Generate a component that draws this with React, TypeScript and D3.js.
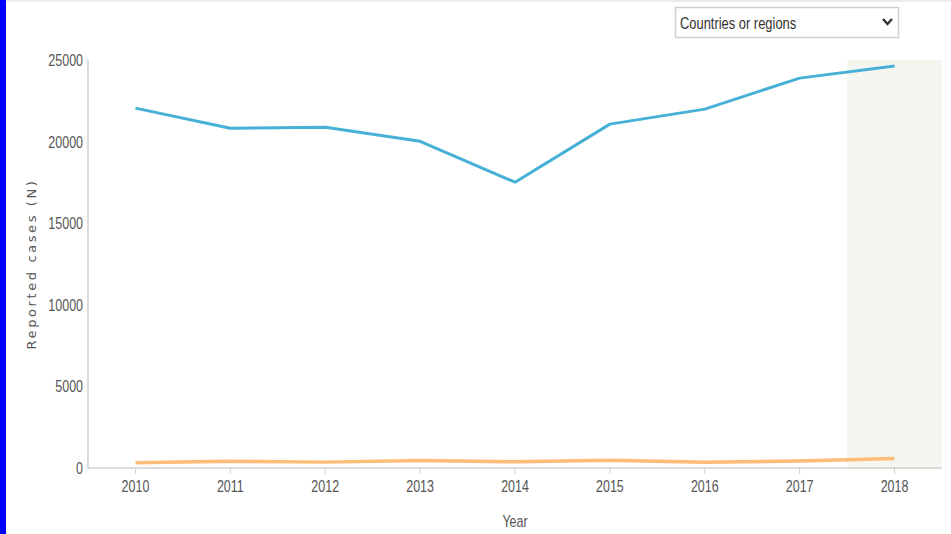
import React, { useEffect, useRef } from "react";
import * as d3 from "d3";

const years = ["2010", "2011", "2012", "2013", "2014", "2015", "2016", "2017", "2018"];
const seriesA = [22050, 20820, 20880, 20020, 17510, 21070, 21990, 23890, 24630];
const seriesB = [320, 410, 360, 460, 380, 470, 350, 430, 580];
const yTicks = [0, 5000, 10000, 15000, 20000, 25000];
const highlightYear = "2018";

const W = 951;
const H = 534;
const M = { left: 88, right: 942, top: 60, bottom: 468 };
const FONT = "'Liberation Sans', Arial, sans-serif";
const SX = 0.78;

export default function App() {
  const ref = useRef<SVGSVGElement>(null);
  useEffect(() => {
    document.body.style.margin = "0";
    const svg = d3.select(ref.current);
    svg.selectAll("*").remove();

    const x = d3.scaleBand().domain(years).range([M.left, M.right]).padding(0);
    const y = d3.scaleLinear().domain([0, 25000]).range([M.bottom, M.top]);

    const txt = (g: any, px: number, py: number, s: string, anchor: string, size = 16, fill = "#555", sx = SX) =>
      g.append("text")
        .attr("transform", `translate(${px},${py}) scale(${sx},1)`)
        .attr("text-anchor", anchor)
        .attr("font-family", FONT).attr("font-size", size).attr("fill", fill).text(s);

    svg.append("rect").attr("x", 0).attr("y", 0).attr("width", W).attr("height", H).attr("fill", "#fff");
    svg.append("rect").attr("x", 0).attr("y", 0).attr("width", W).attr("height", 2).attr("fill", "#ececec");
    svg.append("rect").attr("x", 0).attr("y", 0).attr("width", 6).attr("height", H).attr("fill", "#0000ff");

    // highlight band
    svg.append("rect")
      .attr("x", x(highlightYear)!)
      .attr("y", y(25000))
      .attr("width", x.bandwidth())
      .attr("height", y(0) - y(25000))
      .attr("fill", "#f4f6ef");

    // axes
    svg.append("line").attr("x1", M.left).attr("x2", M.left).attr("y1", y(25000)).attr("y2", y(0))
      .attr("stroke", "#d0d0d0").attr("stroke-width", 1.5);
    svg.append("line").attr("x1", M.left).attr("x2", M.right).attr("y1", y(0)).attr("y2", y(0))
      .attr("stroke", "#d0d0d0").attr("stroke-width", 1.5);

    const xc = (d: string) => x(d)! + x.bandwidth() / 2;
    const gx = svg.append("g");
    years.forEach((yr) => {
      gx.append("line").attr("x1", xc(yr)).attr("x2", xc(yr)).attr("y1", y(0)).attr("y2", y(0) + 6)
        .attr("stroke", "#d0d0d0").attr("stroke-width", 1);
      txt(gx, xc(yr), y(0) + 24, yr, "middle");
    });

    const gy = svg.append("g");
    yTicks.forEach((t) => {
      txt(gy, 83, y(t) + 6, String(t), "end");
    });

    txt(svg, (M.left + M.right) / 2, 527, "Year", "middle");

    svg.append("text")
      .attr("transform", `translate(36, ${(M.top + M.bottom) / 2}) rotate(-90)`)
      .attr("text-anchor", "middle")
      .attr("font-family", "'DejaVu Sans', Verdana, sans-serif")
      .attr("font-size", 13).attr("letter-spacing", 2.6).attr("fill", "#555")
      .text("Reported cases (N)");

    const line = d3.line<number>().x((_, i) => xc(years[i])).y((d) => y(d));
    svg.append("path").attr("d", line(seriesB)!).attr("fill", "none")
      .attr("stroke", "#fdbd78").attr("stroke-width", 3.5).attr("stroke-linejoin", "round");
    svg.append("path").attr("d", line(seriesA)!).attr("fill", "none")
      .attr("stroke", "#47b0d6").attr("stroke-width", 3).attr("stroke-linejoin", "round");

    // dropdown
    const dd = svg.append("g");
    dd.append("rect").attr("x", 675.5).attr("y", 7.5).attr("width", 223).attr("height", 30)
      .attr("fill", "#fff").attr("stroke", "#cfcfcf").attr("stroke-width", 1.5);
    txt(dd, 680, 29, "Countries or regions", "start", 17, "#333", 0.76);
    dd.append("path").attr("d", "M883,19 L887.5,24 L892,19").attr("fill", "none")
      .attr("stroke", "#333").attr("stroke-width", 2.4);
  }, []);

  return (
    <svg ref={ref} width={W} height={H} style={{ position: "absolute", left: 0, top: 0, display: "block" }} />
  );
}
